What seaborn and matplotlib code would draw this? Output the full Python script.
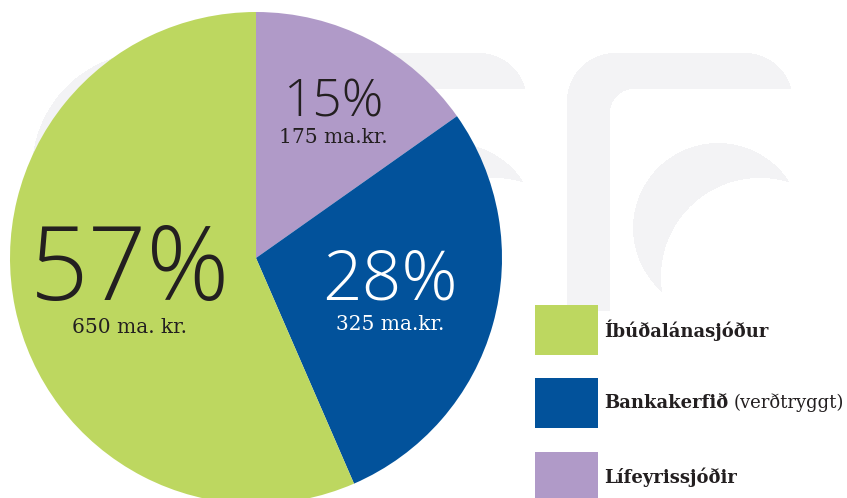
import matplotlib
matplotlib.use("Agg")
import matplotlib.pyplot as plt
import matplotlib.patches as mpatches
import numpy as np
import seaborn as sns

# data (ma. kr.)
labels = ["Lífeyrissjóðir", "Bankakerfið", "Íbúðalánasjóður"]
label_extra = ["", "(verðtryggt)", ""]
amounts = [175, 325, 650]
pct_text = ["15%", "28%", "57%"]
amount_text = ["175 ma.kr.", "325 ma.kr.", "650 ma. kr."]
colors = ["#b09ac8", "#02529b", "#bdd760"]
text_colors = ["#231f20", "white", "#231f20"]

sns.set_theme(style="white")
plt.rcParams["font.family"] = ["DejaVu Sans"]

W, H = 847, 498
fig = plt.figure(figsize=(W / 100, H / 100), dpi=100)
ax = fig.add_axes([0, 0, 1, 1])


def Y(y):
    # pixel row from the top -> data y
    return H - y


# faint background logo, drawn as a raster mask
yy, xx = np.mgrid[0:H, 0:W] + 0.5


def rrect(x0, x1, y0, y1, rad):
    dx = np.maximum(np.maximum(x0 + rad - xx, xx - (x1 - rad)), 0)
    dy = np.maximum(np.maximum(y0 + rad - yy, yy - (y1 - rad)), 0)
    box = (xx >= x0) & (xx <= x1) & (yy >= y0) & (yy <= y1)
    return box & (dx ** 2 + dy ** 2 <= rad ** 2)


def disk(x, y, rad):
    return (xx - x) ** 2 + (yy - y) ** 2 <= rad ** 2


mask = np.zeros((H, W), bool)
for dx in [0, -266]:
    gamma = rrect(567 + dx, 793 + dx, 53, 900, 48) & ~rrect(610 + dx, 900 + dx, 89, 900, 24)
    gamma &= yy <= 311
    crescent = disk(718 + dx, 228, 85) & ~disk(760 + dx, 277, 99)
    mask |= gamma | crescent
mask |= disk(150, 170, 118)
img = np.ones((H, W, 3))
img[mask] = np.array([243, 243, 245]) / 255
ax.imshow(img, extent=(0, W, 0, H), origin="upper", zorder=0, interpolation="nearest")

cx, cy, r = 256, Y(258), 246
wedges, _ = ax.pie(amounts, colors=colors, startangle=90, counterclock=False,
                   center=(cx, cy), radius=r, frame=True,
                   wedgeprops=dict(linewidth=0, zorder=2))
ax.set_xlim(0, W)
ax.set_ylim(0, H)
ax.set_aspect("equal")
ax.axis("off")

# labels inside slices
pct_pos = [(333, Y(103)), (390, Y(281)), (130, Y(273))]
amt_pos = [(333, Y(137)), (390, Y(324)), (130, Y(327))]
pct_size = [37, 50, 74]
for i in range(3):
    ax.text(*pct_pos[i], pct_text[i], ha="center", va="center", fontsize=pct_size[i],
            color=text_colors[i], family="Open Sans", fontweight="light", zorder=3)
    ax.text(*amt_pos[i], amount_text[i], ha="center", va="center", fontsize=14.5,
            color=text_colors[i], family="DejaVu Serif", fontweight="light", zorder=3)

# legend
order = [2, 1, 0]
leg_y = [330, 403, 477]
fig.canvas.draw()
rend = fig.canvas.get_renderer()
for k, i in enumerate(order):
    yc = Y(leg_y[k])
    ax.add_patch(mpatches.Rectangle((535, yc - 25), 63, 50, fc=colors[i], ec="none", zorder=3))
    t = ax.text(604, yc, labels[i], ha="left", va="center", fontsize=13,
                family="DejaVu Serif", fontweight="bold", color="#231f20", zorder=3)
    if label_extra[i]:
        bb = t.get_window_extent(renderer=rend)
        ax.text(bb.x1 + 5, yc, label_extra[i], ha="left", va="center", fontsize=13,
                family="DejaVu Serif", color="#231f20", zorder=3)

fig.savefig("out.png", dpi=100)
